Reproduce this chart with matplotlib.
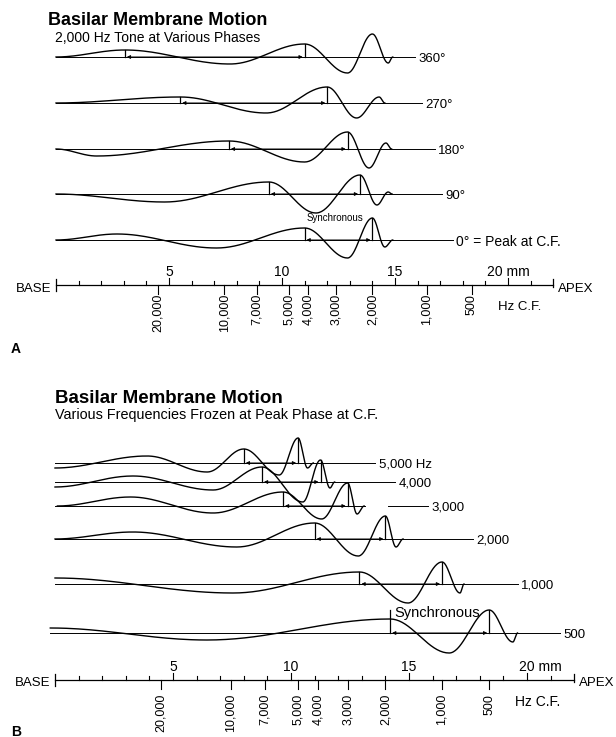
import numpy as np
import matplotlib.pyplot as plt

plt.rcParams['font.family'] = ['Liberation Sans', 'DejaVu Sans']

# ---- Panel A: 2,000 Hz tone at five phases ----
# turning points of each trace: position along the membrane (mm) and displacement
phase_labels = ['360°', '270°', '180°', '90°', '0° = Peak at C.F.']
phase_x = [
    [0.0, 3.05, 7.7, 11.0, 12.9, 14.0, 14.7, 14.9],
    [0.0, 5.5, 9.3, 12.0, 13.3, 14.3, 14.55],
    [0.0, 1.8, 7.65, 11.0, 12.9, 13.85, 14.6, 14.85],
    [0.0, 4.8, 9.42, 11.5, 13.45, 14.2, 14.7, 14.87],
    [0.0, 2.7, 7.1, 11.0, 12.9, 14.0, 14.55, 14.9],
]
phase_amp = [
    [0, 7, -7, 13, -16, 23, -6, 0],
    [0, 6, -10, 16, -15, 6, 0],
    [0, -7, 8, -13, 17, -19, 6, 0],
    [0, -8, 12, -19, 19, -11, 2, 0],
    [0, 6, -8, 12, -18, 22, -7, 0],
]
phase_marks = [[3.05, 11.0], [5.5, 12.0], [7.65, 12.9], [9.42, 13.45], [11.0, 14.0]]
phase_line_end = [15.88, 16.19, 16.77, 17.08, 17.57]

# ---- Panel B: several tones, each frozen at its peak phase ----
tone_labels = ['5,000 Hz', '4,000', '3,000', '2,000', '1,000', '500']
tone_x = [
    [0.0, 3.9, 6.45, 8.0, 9.5, 10.3, 10.7, 10.95],
    [0.0, 3.3, 6.7, 8.77, 10.5, 11.25, 11.65, 11.85],
    [0.1, 3.2, 6.7, 9.66, 11.3, 12.4, 12.8, 13.1],
    [0.0, 3.3, 7.7, 11.0, 12.85, 14.0, 14.45, 14.75],
    [0.0, 7.54, 12.9, 14.96, 16.4, 17.16, 17.33],
    [-0.2, 6.44, 14.2, 16.7, 18.4, 19.4, 19.6],
]
tone_amp = [
    [-5, 7, -9, 14, -12, 25, -5, 0],
    [-5, 6, -8, 15, -20, 22, -6, 0],
    [0, 9, -7, 14, -13, 23, -8, 0],
    [0, 7, -8, 16, -17, 23, -8, 0],
    [6, -9, 12, -19, 22, -9, 0],
    [5, -7, 14, -20, 23, -9, 0],
]
tone_marks = [[8.0, 10.3], [8.77, 11.25], [9.66, 12.4], [11.0, 14.0], [12.9, 16.4], [14.2, 18.4]]
tone_line_end = [13.56, 14.4, 15.8, 17.7, 19.6, 21.4]

# characteristic-frequency scale under each panel
cf_hz = [20000, 10000, 7000, 5000, 4000, 3000, 2000, 1000, 500]
cf_mm = [4.5, 7.45, 8.9, 10.3, 11.15, 12.4, 14.0, 16.4, 18.4]
mm_major = [5, 10, 15, 20]
ruler_len = 22


def smooth_trace(xs, amps, n=40):
    # half-cosine segments between successive turning points
    px, py = [], []
    for i in range(len(xs) - 1):
        t = np.linspace(0, 1, n)
        w = (1 - np.cos(np.pi * t)) / 2
        px.append(xs[i] + (xs[i + 1] - xs[i]) * t)
        py.append(amps[i] + (amps[i + 1] - amps[i]) * w)
    return np.concatenate(px), np.concatenate(py)


def draw_trace(ax, xs, amps, marks, base, line_end, label, lsize, gap=None, top=None):
    cx, cy = smooth_trace(xs, amps)
    start = min(0, xs[0])
    if gap is None:
        ax.plot([start, line_end], [base, base], color='k', lw=0.7)
    else:
        ax.plot([start, gap[0]], [base, base], color='k', lw=0.7)
        ax.plot([gap[1], line_end], [base, base], color='k', lw=0.7)
    ax.plot(cx, base - cy, color='k', lw=1.0)
    for j, m in enumerate(marks):
        h = np.interp(m, cx, cy)
        if top is not None and j == 0:
            h = top
        ax.plot([m, m], [base, base - h], color='k', lw=0.9)
    ax.annotate('', xy=(marks[1] - 0.08, base), xytext=(marks[0] + 0.08, base),
                arrowprops=dict(arrowstyle='<|-|>', color='k', lw=0.7,
                                mutation_scale=5, shrinkA=0, shrinkB=0))
    ax.text(line_end + 0.15, base, label, fontsize=lsize, ha='left',
            va='center_baseline')


def draw_ruler(ax, y, label_top, mm_dx, hz_pos, hz_size):
    ax.plot([0, ruler_len], [y, y], color='k', lw=0.9)
    ax.plot([0, 0], [y - 6, y + 6], color='k', lw=0.9)
    ax.plot([ruler_len, ruler_len], [y - 6, y + 2], color='k', lw=0.9)
    for m in range(1, ruler_len):
        h = 7 if m in mm_major else 4
        ax.plot([m, m], [y, y - h], color='k', lw=0.8)
    for m in mm_major:
        if m == 20:
            ax.text(m - mm_dx, y - 9, '20 mm', fontsize=10, ha='left', va='baseline')
        else:
            ax.text(m, y - 9, str(m), fontsize=10, ha='center', va='baseline')
    for hz, m in zip(cf_hz, cf_mm):
        ax.plot([m, m], [y, y + 9], color='k', lw=0.8)
        ax.text(m, label_top, f'{hz:,}', fontsize=9, rotation=90,
                ha='center', va='top')
    ax.text(-0.2, y + 2, 'BASE', fontsize=9.5, ha='right', va='center_baseline')
    ax.text(ruler_len + 0.22, y + 2, 'APEX', fontsize=9.5, ha='left',
            va='center_baseline')
    ax.text(hz_pos[0], hz_pos[1], 'Hz C.F.', fontsize=hz_size, ha='left',
            va='center_baseline')


fig = plt.figure(figsize=(6.16, 7.37), dpi=100)
axA = fig.add_axes([0, 0, 1, 1])
axB = fig.add_axes([0, 0, 1, 1])
axB.patch.set_alpha(0)
axA.set_xlim(-56 / 22.6, (616 - 56) / 22.6)
axB.set_xlim(-55 / 23.6, (616 - 55) / 23.6)
for ax in (axA, axB):
    ax.set_ylim(737, 0)
    ax.axis('off')

# panel A
axA.text(-0.35, 25, 'Basilar Membrane Motion', fontsize=13, fontweight='bold',
         ha='left', va='baseline')
axA.text(-0.05, 42, '2,000 Hz Tone at Various Phases', fontsize=10,
         ha='left', va='baseline')
for i, base in enumerate([57, 103, 149, 194, 240]):
    draw_trace(axA, phase_x[i], phase_amp[i], phase_marks[i], base,
               phase_line_end[i], phase_labels[i], 10 if i == 4 else 9.5)
axA.text(11.1, 217, 'Synchronous', fontsize=7, ha='left', va='center_baseline')
draw_ruler(axA, 285, 294, 0.93, (19.55, 305), 9.5)
axA.text(-1.8, 347, 'A', fontsize=10, fontweight='bold', ha='center',
         va='center_baseline')

# panel B
axB.text(0.0, 403, 'Basilar Membrane Motion', fontsize=13.5, fontweight='bold',
         ha='left', va='baseline')
axB.text(0.0, 419, 'Various Frequencies Frozen at Peak Phase at C.F.',
         fontsize=10.4, ha='left', va='baseline')
for i, base in enumerate([463, 482, 506, 539, 584, 633]):
    draw_trace(axB, tone_x[i], tone_amp[i], tone_marks[i], base,
               tone_line_end[i], tone_labels[i], 9.5,
               gap=(13.15, 14.1) if i == 2 else None,
               top=23 if i == 5 else None)
axB.text(14.4, 612, 'Synchronous', fontsize=10.5, ha='left', va='center_baseline')
draw_ruler(axB, 680, 694, 0.34, (19.5, 700), 10)
axB.text(-1.65, 730, 'B', fontsize=10, fontweight='bold', ha='center',
         va='center_baseline')

fig.savefig('out.png', dpi=100)
